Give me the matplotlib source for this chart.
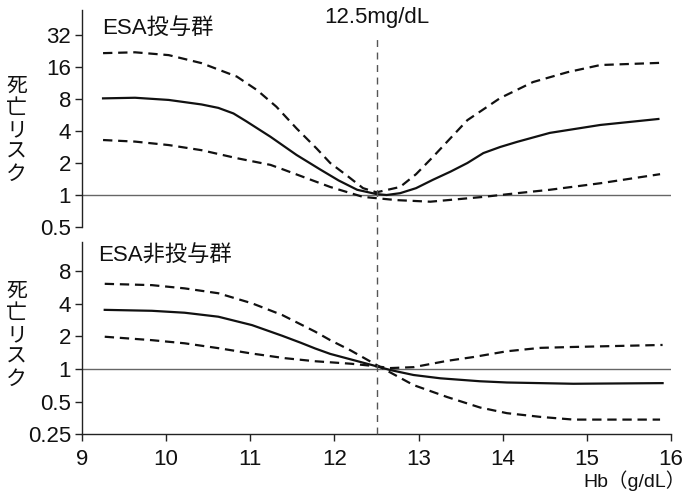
import matplotlib
matplotlib.use("Agg")
import matplotlib.pyplot as plt
from matplotlib.lines import Line2D
from matplotlib.ticker import NullLocator
from matplotlib.transforms import blended_transform_factory

plt.rcParams['font.family'] = ['Liberation Sans', 'Noto Sans CJK JP']

# Hb (g/dL) and hazard ratio of death, ESA-treated group
esa_hb = [9.25, 9.63, 10.03, 10.42, 10.62, 10.8, 10.95, 11.24, 11.55, 11.83, 12.05,
          12.27, 12.5, 12.62, 12.78, 12.97, 13.17, 13.38, 13.58, 13.77, 13.97,
          14.17, 14.56, 15.16, 15.85]
esa_hr = [8.11, 8.22, 7.84, 7.11, 6.6, 5.85, 4.95, 3.53, 2.38, 1.74, 1.37,
          1.12, 1.02, 1.0, 1.04, 1.16, 1.39, 1.66, 2.0, 2.48, 2.83,
          3.16, 3.84, 4.56, 5.19]

esa_up_hb = [9.25, 9.63, 10.03, 10.42, 10.84, 11.08, 11.31, 11.55, 11.79, 11.95,
             12.15, 12.34, 12.5, 12.78, 12.97, 13.17, 13.38, 13.58, 13.97, 14.36,
             14.77, 15.16, 15.87]
esa_up = [21.6, 22.0, 20.7, 17.4, 13.0, 9.7, 6.77, 4.23, 2.73, 2.0,
          1.52, 1.16, 1.06, 1.19, 1.57, 2.28, 3.43, 5.06, 8.17, 11.55,
          14.3, 16.7, 17.5]

esa_lo_hb = [9.25, 9.63, 10.03, 10.42, 10.84, 11.24, 11.39, 11.95, 12.34, 12.74,
             13.14, 13.77, 14.17, 14.56, 15.16, 15.87]
esa_lo = [3.29, 3.18, 2.95, 2.64, 2.22, 1.92, 1.74, 1.19, 0.96, 0.895,
          0.865, 0.96, 1.04, 1.12, 1.29, 1.57]

# ESA-untreated group
non_hb = [9.27, 9.83, 10.22, 10.62, 11.02, 11.38, 11.6, 11.77, 11.95, 12.19, 12.5,
          12.66, 12.94, 13.26, 13.73, 14.05, 14.84, 15.9]
non_hr = [3.53, 3.46, 3.32, 3.05, 2.55, 2.03, 1.75, 1.55, 1.38, 1.23, 1.06,
          0.98, 0.88, 0.82, 0.77, 0.75, 0.73, 0.74]

non_up_hb = [9.27, 9.83, 10.22, 10.62, 11.02, 11.38, 11.77, 11.95, 12.19, 12.5,
             12.94, 13.34, 13.73, 14.05, 14.45, 14.84, 15.87]
non_up = [6.15, 5.98, 5.58, 5.03, 4.06, 3.16, 2.22, 1.85, 1.49, 1.09,
          0.71, 0.55, 0.44, 0.39, 0.36, 0.34, 0.34]

non_lo_hb = [9.27, 9.83, 10.22, 10.62, 11.02, 11.41, 11.77, 12.19, 12.5, 12.66,
             12.94, 13.34, 13.65, 14.05, 14.45, 14.84, 15.9]
non_lo = [1.99, 1.85, 1.73, 1.56, 1.39, 1.26, 1.18, 1.12, 1.06, 1.02,
          1.04, 1.19, 1.29, 1.46, 1.57, 1.60, 1.67]

top_ticks = [0.5, 1, 2, 4, 8, 16, 32]
top_labels = ['0.5', '1', '2', '4', '8', '16', '32']
bot_ticks = [0.25, 0.5, 1, 2, 4, 8]
bot_labels = ['0.25', '0.5', '1', '2', '4', '8']
x_ticks = [9, 10, 11, 12, 13, 14, 15, 16]
cutoff = 12.5

fig = plt.figure(figsize=(6.88, 4.95), dpi=100)
ax1 = fig.add_axes([0.1192, 0.5414, 0.8561, 0.4384])
ax2 = fig.add_axes([0.1192, 0.1232, 0.8561, 0.3879])

spine_c = '#222222'
ref_c = '#666666'
ink = '#111111'


def style(ax, ticks, labels, ylim):
    ax.set_yscale('log', base=2)
    ax.set_xlim(9, 16)
    ax.set_ylim(*ylim)
    ax.set_yticks(ticks)
    ax.set_yticklabels(labels)
    ax.yaxis.set_minor_locator(NullLocator())
    ax.spines['top'].set_visible(False)
    ax.spines['right'].set_visible(False)
    for s in ax.spines.values():
        s.set_color(spine_c)
        s.set_linewidth(1.0)
    ax.tick_params(axis='both', direction='out', length=5, width=1.0,
                   color=spine_c, labelsize=16, pad=3, labelcolor=ink)
    ax.axhline(1, color=ref_c, lw=1.0, zorder=1)


style(ax1, top_ticks, top_labels, (0.5, 55))
style(ax2, bot_ticks, bot_labels, (0.25, 15))

ax1.spines['bottom'].set_visible(False)
ax1.tick_params(axis='x', bottom=False, labelbottom=False)
ax2.set_xticks(x_ticks)
ax2.set_xticklabels([str(v) for v in x_ticks])
ax2.tick_params(axis='x', pad=6)

lw = 1.6
dash = (4.2, 2.6)
ax1.plot(esa_hb, esa_hr, color=ink, lw=lw, zorder=3)
ax1.plot(esa_up_hb, esa_up, color=ink, lw=lw, dashes=dash, zorder=3)
ax1.plot(esa_lo_hb, esa_lo, color=ink, lw=lw, dashes=dash, zorder=3)
ax2.plot(non_hb, non_hr, color=ink, lw=lw, zorder=3)
ax2.plot(non_up_hb, non_up, color=ink, lw=lw, dashes=dash, zorder=3)
ax2.plot(non_lo_hb, non_lo, color=ink, lw=lw, dashes=dash, zorder=3)

# Vertical cutoff line running through both panels
tr = blended_transform_factory(ax2.transData, fig.transFigure)
fig.add_artist(Line2D([cutoff, cutoff], [0.1232, 1 - 35 / 495], transform=tr,
                      color='#555555', lw=1.0, dashes=(5, 4), zorder=2))
fig.text(cutoff, 1 - 18 / 495, '12.5mg/dL', transform=tr, ha='center',
         va='center', fontsize=16, color=ink)

fig.text(102 / 688, 1 - 28 / 495, 'ESA投与群', fontsize=16, va='center',
         ha='left', color=ink)
fig.text(98 / 688, 1 - 256 / 495, 'ESA非投与群', fontsize=16, va='center',
         ha='left', color=ink)

ylabel = '死\n亡\nリ\nス\nク'
for yc in (130, 335):
    fig.text(16.5 / 688, 1 - yc / 495, ylabel, fontsize=15, va='center',
             ha='center', linespacing=1.0, family='Noto Sans CJK JP',
             color=ink)

fig.text(686 / 688, 1 - 481 / 495, 'Hb（g/dL）', fontsize=14, va='center',
         ha='right', color=ink)

fig.savefig('out.png', dpi=100)
